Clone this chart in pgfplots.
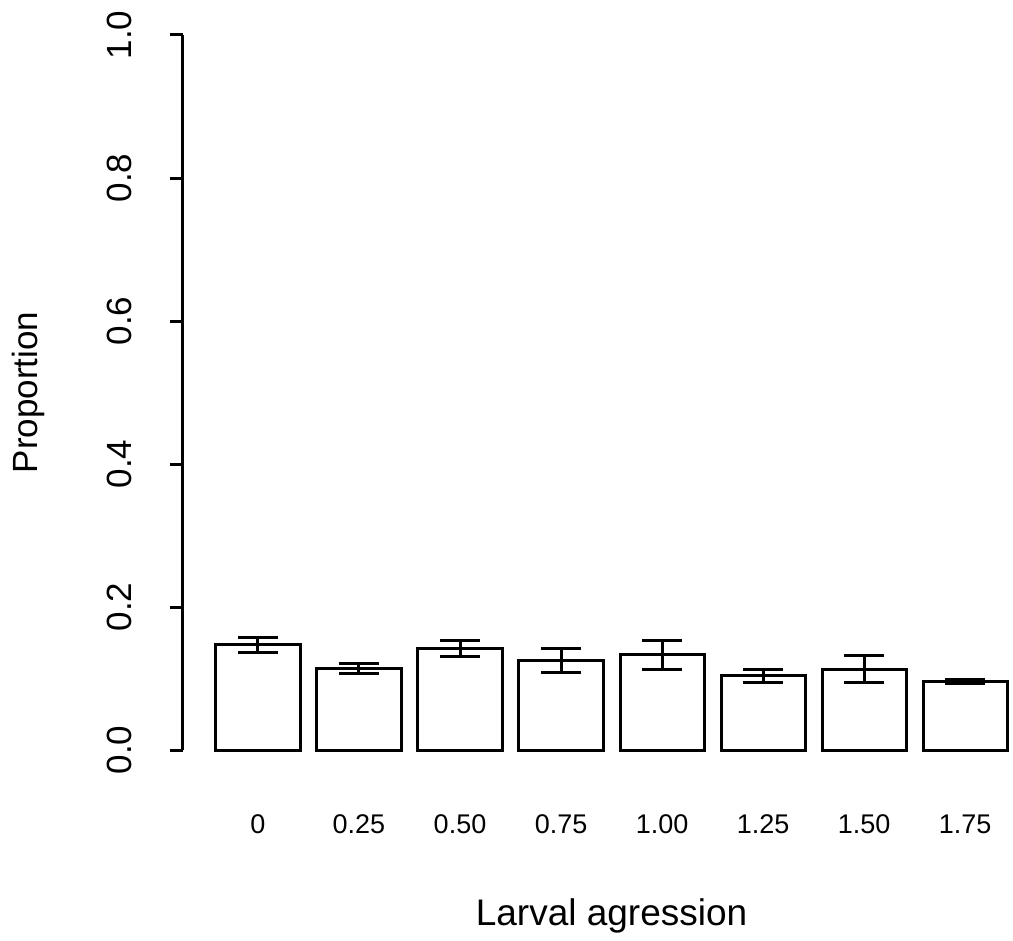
\documentclass[border=0pt]{standalone}
\usepackage{pgfplots}
\pgfplotsset{compat=1.18}
\usepackage{fontspec}
\setmainfont{Liberation Sans}
\begin{document}
\begin{tikzpicture}
\path[use as bounding box] (0,0) rectangle (506.5pt,-470.5pt);
\begin{axis}[
  at={(91.5pt,-375pt)}, anchor=south west,
  x=42.1pt, y=357.5pt,
  xmin=-0.19, xmax=9.7, ymin=0, ymax=1,
  clip=false,
  axis y line*=left, axis x line*=bottom,
  x axis line style={draw=none},
  y axis line style={-, line width=1.5pt},
  xtick={0.7,1.9,3.1,4.3,5.5,6.7,7.9,9.1},
  xticklabels={0,0.25,0.50,0.75,1.00,1.25,1.50,1.75},
  xtick style={draw=none},
  ytick={0,0.2,0.4,0.6,0.8,1},
  yticklabels={0.0,0.2,0.4,0.6,0.8,1.0},
  tick align=outside,
  major tick length=6.5pt,
  major tick style={line width=1.5pt, black},
  ytick style={line width=1.5pt, black},
  /pgf/number format/assume math mode=true,
  xticklabel style={font=\fontsize{13.5}{16}\selectfont, anchor=base, yshift=-35pt, inner sep=0pt},
  yticklabel style={font=\fontsize{17.5}{20}\selectfont, rotate=90, anchor=base, yshift=19pt, inner sep=0pt},
  xlabel={Larval agression},
  xlabel style={font=\fontsize{18.5}{22}\selectfont, at={(axis cs:4.9,0)}, anchor=base, yshift=-87.5pt, inner sep=0pt},
  ylabel={Proportion},
  ylabel style={font=\fontsize{17.5}{20}\selectfont, at={(rel axis cs:0,0.5)}, anchor=base, yshift=72.5pt, inner sep=0pt},
]
\addplot[ybar, bar width=42.1pt, draw=black, fill=white, line width=1.5pt,
  error bars/.cd, y dir=both, y explicit,
  error bar style={line width=1.5pt, black},
  error mark options={rotate=90, mark size=10pt, line width=1.5pt, black}]
coordinates {
  (0.7,0.147) +- (0,0.011)
  (1.9,0.114) +- (0,0.007)
  (3.1,0.142) +- (0,0.0115)
  (4.3,0.125) +- (0,0.0165)
  (5.5,0.133) +- (0,0.020)
  (6.7,0.104) +- (0,0.009)
  (7.9,0.113) +- (0,0.0185)
  (9.1,0.096) +- (0,0.003)
};
\end{axis}
\end{tikzpicture}
\end{document}
